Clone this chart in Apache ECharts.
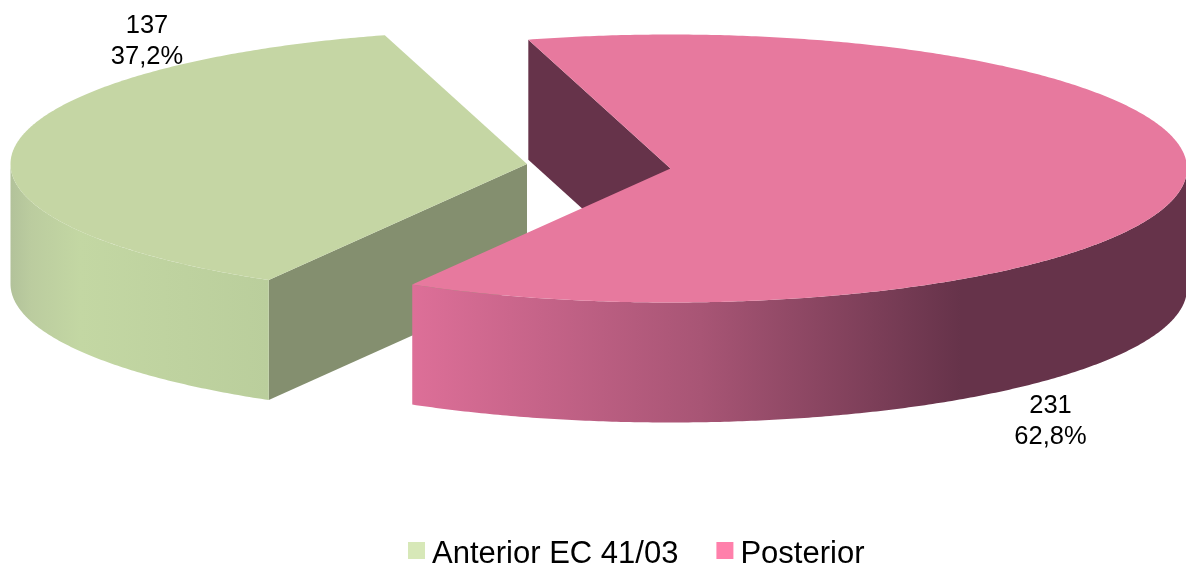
<!DOCTYPE html>
<html>
<head>
<meta charset="utf-8">
<style>html,body{margin:0;padding:0;background:#fff}#c{width:1186px;height:564px}</style>
<script src="https://cdn.jsdelivr.net/npm/echarts@6/dist/echarts.min.js"></script>
</head>
<body>
<div id="c"></div>
<script>
// Data
const categories = ['Anterior EC 41/03', 'Posterior'];
const values = [137, 231];
const percentLabels = ['37,2%', '62,8%'];

// Appearance (not data)
const legendColors = ['#D7E8B8', '#FF80AB'];
const topColors = ['#C5D6A4', '#E7799E'];
const cutColors = ['#848F6F', '#66334A'];
const wallStops = [
  [[0, '#B2C29A'], [0.08, '#BBCC9F'], [0.27, '#C3D7A3'], [1, '#BACE9C']],
  [[0, '#DD6F98'], [0.372, '#A85575'], [0.708, '#66334A'], [1, '#66334A']]
];
const sliceCenters = [[527, 164], [670.5, 168.5]];
const labelCenters = [[147, 41], [1050.5, 421]];
const RX = 516.5, RY = 134, DEPTH = 120, START_DEG = 210;

const total = values.reduce((a, b) => a + b, 0);
function sliceAngles(i) {
  let a = START_DEG;
  for (let k = 0; k < i; k++) a += values[k] / total * 360;
  return [a, a + values[i] / total * 360];
}
const rad = d => d * Math.PI / 180;
function rim(c, deg, dy) {
  return [c[0] + RX * Math.sin(rad(deg)), c[1] - RY * Math.cos(rad(deg)) + (dy || 0)];
}
function arc(c, a, b, dy) {
  const n = Math.max(2, Math.ceil(Math.abs(b - a) * 2)), pts = [];
  for (let k = 0; k <= n; k++) pts.push(rim(c, a + (b - a) * k / n, dy));
  return pts;
}
function poly(points, fill) {
  return { type: 'polygon', shape: { points: points }, style: { fill: fill, stroke: null }, silent: true };
}
function renderSlice(i) {
  const c = sliceCenters[i];
  const [a0, a1] = sliceAngles(i);
  const children = [];
  // flat cut faces that turn towards the viewer
  [[a0, a0 - 90], [a1, a1 + 90]].forEach(([edge, normal]) => {
    if (-Math.cos(rad(normal)) > 0) {
      const p = rim(c, edge);
      children.push(poly([c, p, [p[0], p[1] + DEPTH], [c[0], c[1] + DEPTH]], cutColors[i]));
    }
  });
  // outer wall: visible part lies on the lower half of the ellipse (90..270 deg)
  for (const off of [0, 360, -360]) {
    const from = Math.max(a0 + off, 90), to = Math.min(a1 + off, 270);
    if (to > from) {
      const fill = new echarts.graphic.LinearGradient(0, 0, 1, 0,
        wallStops[i].map(s => ({ offset: s[0], color: s[1] })));
      children.push(poly(arc(c, from, to, 0).concat(arc(c, to, from, DEPTH)), fill));
    }
  }
  // top face
  children.push(poly([c].concat(arc(c, a0, a1, 0)), topColors[i]));
  // value and percentage
  children.push({
    type: 'text', silent: true,
    style: {
      x: labelCenters[i][0], y: labelCenters[i][1],
      text: values[i] + '\n' + percentLabels[i],
      fill: '#000', font: '25.5px "Liberation Sans"', lineHeight: 31,
      align: 'center', verticalAlign: 'middle'
    }
  });
  return { type: 'group', children: children };
}

const chart = echarts.init(document.getElementById('c'), null, { renderer: 'canvas' });
chart.setOption({
  animation: false,
  backgroundColor: '#fff',
  legend: {
    data: categories,
    icon: 'rect',
    left: 403,
    top: 534,
    itemWidth: 17,
    itemHeight: 17,
    itemGap: 38,
    selectedMode: false,
    formatter: name => '{t|' + name + '}',
    textStyle: {
      color: '#000', fontFamily: 'Liberation Sans', fontSize: 31, padding: [0, 0, 0, 2],
      rich: { t: { color: '#000', fontFamily: 'Liberation Sans', fontSize: 31, padding: [8, 0, 0, 0] } }
    }
  },
  series: categories.map((name, i) => ({
    name: name,
    type: 'custom',
    coordinateSystem: 'none',
    itemStyle: { color: legendColors[i] },
    data: [values[i]],
    z: 2 + i,
    renderItem: () => renderSlice(i)
  }))
});
</script>
</body>
</html>
